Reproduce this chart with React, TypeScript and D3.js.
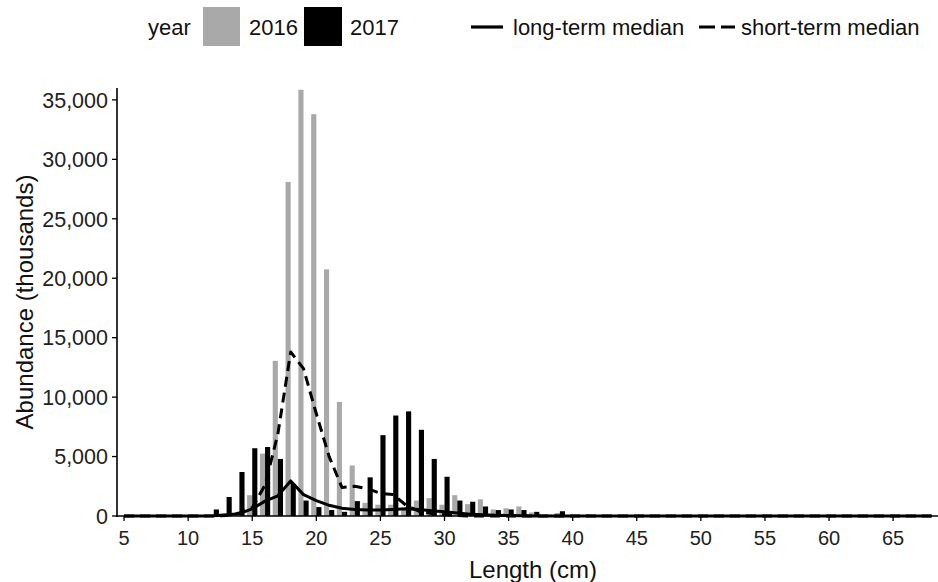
import React from "react";
import * as d3 from "d3";

// Bar data (length in cm, abundance in thousands)
const barLengths = [12, 13, 14, 15, 16, 17, 18, 19, 20, 21, 22, 23, 24, 25, 26, 27, 28, 29, 30, 31, 32, 33, 34, 35, 36, 37, 38, 39, 40, 41, 53];
const abundance2016 = [0, 0, 150, 1750, 5250, 13050, 28100, 35850, 33800, 20750, 9600, 4250, 1100, 950, 950, 700, 1300, 1500, 950, 1750, 1000, 1400, 550, 650, 800, 300, 100, 250, 50, 50, 60];
const abundance2017 = [550, 1600, 3700, 5700, 5800, 4800, 2700, 1300, 750, 500, 350, 1250, 3250, 6800, 8450, 8800, 7250, 4800, 3300, 1300, 1200, 800, 500, 550, 500, 350, 100, 400, 50, 100, 0];

// Median lines
const lineLengths = [5, 11, 12, 13, 14, 15, 16, 17, 18, 19, 20, 21, 22, 23, 24, 25, 26, 27, 28, 29, 30, 31, 32, 33, 34, 35, 36, 37, 68];
const longTermMedian = [0, 0, 20, 100, 200, 600, 1250, 1700, 2950, 1800, 1300, 900, 650, 550, 500, 500, 550, 600, 550, 450, 350, 250, 150, 100, 60, 40, 20, 0, 0];
const shortTermMedian = [0, 0, 0, 50, 250, 700, 2600, 6900, 13800, 12400, 8600, 5000, 2400, 2500, 2300, 1900, 1800, 900, 400, 200, 100, 50, 0, 0, 0, 0, 0, 0, 0];

const xTicks = [5, 10, 15, 20, 25, 30, 35, 40, 45, 50, 55, 60, 65];
const yTicks = [0, 5000, 10000, 15000, 20000, 25000, 30000, 35000];

const W = 938;
const H = 582;
const FONT = "'Liberation Sans', Arial, sans-serif";
const GRAY = "#a9a9a9";

export default function App() {
  const x = d3.scaleLinear().domain([4.45, 68.5]).range([117, 938]);
  const y = d3.scaleLinear().domain([0, 36000]).range([516, 88]);
  const bw = x(0.4) - x(0);
  const fmt = d3.format(",");

  const line = (vals: number[]) =>
    d3
      .line<number>()
      .x((_, i) => x(lineLengths[i]))
      .y((v) => y(v))(vals) || "";

  return (
    <div style={{ position: "fixed", left: 0, top: 0, width: W, height: H, background: "#fff" }}>
      <svg width={W} height={H} style={{ display: "block", fontFamily: FONT }}>
        <rect x={0} y={0} width={W} height={H} fill="#fff" />
        {/* Legend */}
        <g fontSize={22} fill="#111">
          <text x={148} y={35}>year</text>
          <rect x={203} y={7} width={37} height={39} fill={GRAY} />
          <text x={249} y={35}>2016</text>
          <rect x={304} y={7} width={38} height={39} fill="#000" />
          <text x={350} y={35}>2017</text>
          <line x1={471} x2={503} y1={27} y2={27} stroke="#000" strokeWidth={3.2} />
          <text x={513} y={35}>long-term median</text>
          <line x1={699} x2={735} y1={27} y2={27} stroke="#000" strokeWidth={3.2} strokeDasharray="16 6" />
          <text x={741} y={35}>short-term median</text>
        </g>

        {/* Bars */}
        <g>
          {barLengths.map((L, i) => (
            <rect key={"g" + L} x={x(L) - bw} y={y(abundance2016[i])} width={bw} height={y(0) - y(abundance2016[i])} fill={GRAY} />
          ))}
          {barLengths.map((L, i) => (
            <rect key={"b" + L} x={x(L)} y={y(abundance2017[i])} width={bw} height={y(0) - y(abundance2017[i])} fill="#000" />
          ))}
        </g>

        {/* Lines */}
        <path d={line(longTermMedian)} fill="none" stroke="#000" strokeWidth={3} strokeLinejoin="round" />
        <path d={line(shortTermMedian)} fill="none" stroke="#000" strokeWidth={3} strokeDasharray="10 6" strokeLinejoin="round" />

        {/* Axes */}
        <line x1={117} x2={117} y1={88} y2={517} stroke="#000" strokeWidth={1.6} />
        <line x1={116} x2={938} y1={516} y2={516} stroke="#000" strokeWidth={1.6} />
        {yTicks.map((t) => (
          <g key={"yt" + t}>
            <line x1={112} x2={117} y1={y(t)} y2={y(t)} stroke="#000" strokeWidth={1.3} />
            <text x={108} y={y(t)} dy="0.36em" textAnchor="end" fontSize={21.5} fill="#222">
              {fmt(t)}
            </text>
          </g>
        ))}
        {xTicks.map((t) => (
          <g key={"xt" + t}>
            <line x1={x(t)} x2={x(t)} y1={516} y2={521} stroke="#000" strokeWidth={1.3} />
            <text x={x(t)} y={545} textAnchor="middle" fontSize={20} fill="#222">
              {t}
            </text>
          </g>
        ))}
        <text x={533} y={578} textAnchor="middle" fontSize={24} fill="#111">
          Length (cm)
        </text>
        <text transform="translate(33,302) rotate(-90)" textAnchor="middle" fontSize={24} fill="#111">
          Abundance (thousands)
        </text>
      </svg>
    </div>
  );
}
